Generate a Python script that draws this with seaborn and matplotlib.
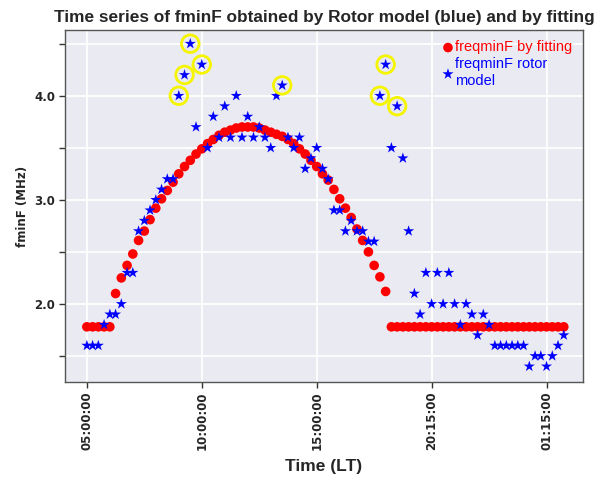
import numpy as np
import pandas as pd
import matplotlib
matplotlib.use("Agg")
import matplotlib.pyplot as plt
import seaborn as sns

# ---- data ----
fit_values = [1.78, 1.78, 1.78, 1.78, 1.78, 2.10, 2.25, 2.37, 2.48, 2.61,
              2.70, 2.81, 2.92, 3.01, 3.09, 3.17, 3.25, 3.32, 3.38, 3.44,
              3.49, 3.54, 3.58, 3.62, 3.65, 3.67, 3.69, 3.70, 3.70, 3.70,
              3.69, 3.67, 3.65, 3.63, 3.61, 3.58, 3.54, 3.49, 3.44, 3.38,
              3.32, 3.25, 3.19, 3.10, 3.01, 2.92, 2.83, 2.72, 2.61, 2.50,
              2.37, 2.26, 2.12, 1.78, 1.78, 1.78, 1.78, 1.78, 1.78, 1.78,
              1.78, 1.78, 1.78, 1.78, 1.78, 1.78, 1.78, 1.78, 1.78, 1.78,
              1.78, 1.78, 1.78, 1.78, 1.78, 1.78, 1.78, 1.78, 1.78, 1.78,
              1.78, 1.78, 1.78, 1.78]
rotor_values = [1.6, 1.6, 1.6, 1.8, 1.9, 1.9, 2.0, 2.3, 2.3, 2.7,
                2.8, 2.9, 3.0, 3.1, 3.2, 3.2, 4.0, 4.2, 4.5, 3.7,
                4.3, 3.5, 3.8, 3.6, 3.9, 3.6, 4.0, 3.6, 3.8, 3.6,
                3.7, 3.6, 3.5, 4.0, 4.1, 3.6, 3.5, 3.6, 3.3, 3.4,
                3.5, 3.3, 3.2, 2.9, 2.9, 2.7, 2.8, 2.7, 2.7, 2.6,
                2.6, 4.0, 4.3, 3.5, 3.9, 3.4, 2.7, 2.1, 1.9, 2.3,
                2.0, 2.3, 2.0, 2.3, 2.0, 1.8, 2.0, 1.9, 1.7, 1.9,
                1.8, 1.6, 1.6, 1.6, 1.6, 1.6, 1.6, 1.4, 1.5, 1.5,
                1.4, 1.5, 1.6, 1.7]
highlight_idx = [16, 17, 18, 20, 34, 51, 52, 54]
tick_positions = [0, 20, 40, 60, 80]
tick_labels = ["05:00:00", "10:00:00", "15:00:00", "20:15:00", "01:15:00"]
ytick_values = [1.5, 2.0, 2.5, 3.0, 3.5, 4.0, 4.5]
ytick_labels = ["", "2.0", "", "3.0", "", "4.0", ""]

sample = np.arange(len(fit_values))
df = pd.DataFrame({"sample": sample, "fit": fit_values, "rotor": rotor_values})
hl = df.iloc[highlight_idx]

sns.set_theme(style="darkgrid")
plt.rcParams["font.family"] = ["DejaVu Sans"]

fig, ax = plt.subplots(figsize=(6.02, 4.79), dpi=100)
fig.subplots_adjust(left=0.108, right=0.968, top=0.937, bottom=0.2025)

sns.scatterplot(data=df, x="sample", y="fit", ax=ax, color="red", marker="o",
                s=48, edgecolor="none", label="freqminF by fitting", zorder=3)
sns.scatterplot(data=df, x="sample", y="rotor", ax=ax, color="blue", marker="*",
                s=70, edgecolor="none", label="freqminF rotor\nmodel", zorder=4)
ax.scatter(hl["sample"], hl["rotor"], s=160, facecolors="none",
           edgecolors="#f5f500", linewidths=2.0, zorder=5)

ax.set_xlim(-3.8, 86.3)
ax.set_ylim(1.25, 4.63)
ax.set_xticks(tick_positions)
ax.set_xticklabels(tick_labels, rotation=90, fontsize=8.5, fontweight="bold")
ax.set_yticks(ytick_values)
ax.set_yticklabels(ytick_labels, fontsize=8.5, fontweight="bold")
ax.tick_params(axis="both", which="major", length=4, width=1, color="#333333",
               bottom=True, left=True, pad=3)
ax.grid(True, color="white", linewidth=1.3)

for sp in ax.spines.values():
    sp.set_visible(True)
    sp.set_color("#555555")
    sp.set_linewidth(1.0)

ax.set_xlabel("Time (LT)", fontsize=12.5, fontweight="bold",
              family=["Liberation Sans"], labelpad=6)
ax.set_ylabel("fminF (MHz)", fontsize=8.5, fontweight="bold")
ax.set_title("Time series of fminF obtained by Rotor model (blue) and by fitting",
             fontsize=12.4, fontweight="bold", family=["Liberation Sans"], pad=6)

leg = ax.legend(loc="upper right", frameon=False, handletextpad=0.0,
                borderaxespad=0.3, labelspacing=0.2, handlelength=1.0,
                prop={"family": "Liberation Sans", "size": 10.5})
for txt, col in zip(leg.get_texts(), ["red", "blue"]):
    txt.set_color(col)

fig.savefig("out.png", dpi=100)
